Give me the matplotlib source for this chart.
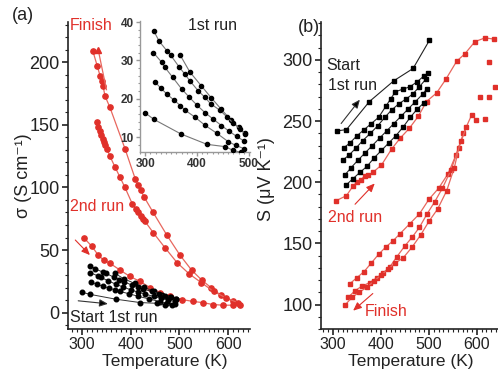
import matplotlib
matplotlib.use('Agg')
import matplotlib.pyplot as plt
from matplotlib.ticker import MultipleLocator

plt.rcParams['font.family'] = ['Liberation Sans', 'DejaVu Sans']

RED = '#e0302a'
REDL = '#e8675e'
DARK = '#222222'

# ---------------- panel (a): conductivity ----------------
# 2nd-run red curves
a_red1_T = [322, 331, 337, 340, 343, 347, 357, 388, 409, 415, 420, 428, 446, 474, 501, 525, 546, 565, 585, 610, 625]
a_red1_s = [209, 197, 189, 185, 181, 173, 164, 131, 107, 102, 98, 92, 80, 62, 46, 34, 26, 20, 14, 9, 6]
a_red2_T = [330, 333, 336, 339, 342, 345, 348, 351, 357, 368, 378, 388, 403, 410, 415, 420, 425, 429, 446, 470, 495, 520, 545, 570, 595, 620]
a_red2_s = [152, 148, 145, 142, 139, 136, 134, 131, 125, 116, 108, 100, 87, 83, 80, 77, 75, 73, 64, 52, 40, 31, 24, 17, 12, 8]
a_red3_T = [303, 320, 333, 344, 357, 378, 398, 419, 440, 460, 480, 505, 528, 549, 569, 590, 610]
a_red3_s = [60, 53, 46, 42, 39.5, 34, 29, 25, 20, 16, 13, 10.5, 9, 8, 6.5, 6, 6]
a_finish_T = [333, 350]
a_finish_s = [210, 178]

# 1st-run black curves (also shown in inset)
k0_T = [367, 386, 408, 427, 447, 465, 480, 492]
k0_s = [31.5, 27, 23.4, 20.3, 17.2, 14.5, 12.5, 11]
k1_T = [317, 327, 342, 349, 366, 376, 386, 402, 415, 426, 444, 458, 470, 482, 492]
k1_s = [37.6, 35, 32.5, 31.4, 28.2, 26.5, 24.7, 22.1, 20.4, 18.7, 17, 15.2, 13.6, 12.2, 10.8]
k2_T = [316, 332, 338, 353, 370, 385, 400, 415, 430, 447, 462, 476, 490]
k2_s = [32, 29.5, 28.2, 25.6, 22.6, 20.4, 18.3, 16.4, 14.8, 13, 11.5, 10.2, 9]
k3_T = [318, 330, 342, 355, 368, 377, 396, 415, 438, 460, 475, 490]
k3_s = [24.5, 22.8, 21.2, 19.7, 18.2, 17, 15.2, 13.1, 11, 8.8, 7.8, 7]
k4_T = [300, 317, 369, 419, 454, 470, 485]
k4_s = [16.3, 14.6, 10.8, 8.1, 7.5, 6.5, 6]
black_a = [(k0_T, k0_s), (k1_T, k1_s), (k2_T, k2_s), (k3_T, k3_s), (k4_T, k4_s)]

# ---------------- panel (b): Seebeck ----------------
b_k1_T = [309, 328, 376, 427, 467, 501]
b_k1_S = [242, 243, 266, 283, 293, 316]
b_k2_T = [322, 335, 350, 365, 380, 395, 410, 420, 430, 445, 460, 475, 490, 498]
b_k2_S = [228, 232, 238, 243, 248, 253, 262, 268, 274, 276, 278, 282, 287, 289]
b_k3_T = [320, 333, 348, 362, 378, 393, 408, 422, 437, 452, 466, 480, 493]
b_k3_S = [218, 222, 228, 234, 240, 246, 253, 259, 264, 268, 272, 278, 284]
b_k4_T = [325, 338, 352, 367, 382, 397, 412, 427, 442, 457, 472, 487, 495]
b_k4_S = [206, 212, 218, 224, 230, 236, 242, 248, 254, 260, 266, 272, 276]
b_k5_T = [328, 342, 356, 371, 386, 401, 416, 431, 446, 461, 476, 490]
b_k5_S = [198, 203, 208, 213, 220, 226, 232, 238, 245, 253, 260, 265]
black_b = [(b_k1_T, b_k1_S), (b_k2_T, b_k2_S), (b_k3_T, b_k3_S), (b_k4_T, b_k4_S), (b_k5_T, b_k5_S)]

b_heat_T = [307, 328, 342, 350, 358, 366, 374, 383, 401, 422, 440, 459, 478, 495, 516, 535, 558, 575, 596, 617, 636]
b_heat_S = [185, 189, 197, 200, 202, 205, 206, 208, 214, 227, 236, 244, 254, 266, 273, 284, 299, 305, 315, 318, 317]
b_top_T = [626, 637, 606, 626, 599, 616]
b_top_S = [298, 278, 270, 270, 251, 252]
b_c1_T = [589, 572, 556, 540, 520, 500, 480, 460, 440, 425, 410, 395, 380, 365, 350, 335]
b_c1_S = [255, 240, 222, 207, 195, 186, 174, 166, 158, 152, 147, 141, 134, 127, 122, 117]
b_c2_T = [578, 562, 546, 528, 512, 496, 480, 465, 450, 433, 419, 405, 392, 377, 360, 345, 332]
b_c2_S = [245, 228, 210, 195, 184, 174, 163, 155, 148, 139, 131, 126, 122, 118, 115, 111, 106]
b_c3_T = [566, 553, 537, 518, 500, 483, 465, 446, 430, 415, 400, 385, 370, 355, 340, 326]
b_c3_S = [234, 212, 193, 178, 168, 157, 147, 138, 134, 129, 124, 119, 114, 110, 106, 100]

W, H = 498, 370
fig = plt.figure(figsize=(W / 100, H / 100), dpi=100)


def box(x0, y0, x1, y1):
    return [x0 / W, 1 - y1 / H, (x1 - x0) / W, (y1 - y0) / H]


def style(ax, col=DARK, lw=1.2):
    for s in ['top', 'right']:
        ax.spines[s].set_visible(False)
    for s in ['left', 'bottom']:
        ax.spines[s].set_color(col)
        ax.spines[s].set_linewidth(lw)
    ax.tick_params(which='major', direction='out', length=4, width=lw, color=col)
    ax.tick_params(which='minor', direction='out', length=2, width=0.8, color=col)
    ax.set_facecolor('white')


axA = fig.add_axes(box(68, 22, 250, 329))
axB = fig.add_axes(box(321, 22, 498, 329))
axI = fig.add_axes(box(140, 21, 250, 152))

# ---- panel a ----
for T, s in [(a_red1_T, a_red1_s), (a_red2_T, a_red2_s), (a_red3_T, a_red3_s)]:
    axA.plot(T, s, '-', color=REDL, lw=0.9, marker='o', ms=3.8, mfc=RED, mec=RED, zorder=3)
axA.plot(a_finish_T, a_finish_s, '-', color=REDL, lw=0.9, zorder=3)
axA.plot(a_finish_T[:1], a_finish_s[:1], '^', color=RED, ms=5, zorder=4)
for T, s in black_a:
    axA.plot(T, s, '-', color='#333333', lw=0.7, marker='o', ms=3.3, mfc='black', mec='black', zorder=4)

axA.set_xlim(271, 645)
axA.set_ylim(-13, 232)
axA.xaxis.set_major_locator(MultipleLocator(100))
axA.xaxis.set_minor_locator(MultipleLocator(10))
axA.yaxis.set_major_locator(MultipleLocator(50))
axA.yaxis.set_minor_locator(MultipleLocator(10))
style(axA)
axA.tick_params(axis='x', labelsize=11.5, pad=2, colors=DARK)
axA.tick_params(axis='y', labelsize=13, pad=2, colors=DARK)
axA.set_xlabel('Temperature (K)', fontsize=12.5, color=DARK)
axA.xaxis.set_label_coords(0.53, -0.08)
axA.set_ylabel('σ (S cm⁻¹)', fontsize=13, color=DARK)
axA.yaxis.set_label_coords(-0.2, 0.5)

axA.annotate('', xy=(353, 7.1), xytext=(292, 9.5),
             arrowprops=dict(arrowstyle='-|>,head_length=0.5,head_width=0.22', color='#555555',
                             lw=0.8, shrinkA=0, shrinkB=0, fc='black', ec='#333333'))
axA.annotate('', xy=(316, 46), xytext=(286, 58),
             arrowprops=dict(arrowstyle='-|>,head_length=0.5,head_width=0.22', color=RED,
                             lw=0.8, shrinkA=0, shrinkB=0))

# ---- inset ----
for T, s in black_a:
    axI.plot(T, s, '-', color='#777777', lw=0.8, marker='o', ms=3.0, mfc='black', mec='black', zorder=3)
axI.set_xlim(290, 502)
axI.set_ylim(6.1, 40.3)
axI.xaxis.set_major_locator(MultipleLocator(100))
axI.xaxis.set_minor_locator(MultipleLocator(10))
axI.yaxis.set_major_locator(MultipleLocator(10))
axI.yaxis.set_minor_locator(MultipleLocator(2))
style(axI, col='#999999', lw=1.0)
axI.tick_params(which='major', length=3)
axI.tick_params(which='minor', length=1.5)
axI.tick_params(labelsize=8.5, pad=1.5, labelcolor='#333333')
for lab in axI.get_xticklabels() + axI.get_yticklabels():
    lab.set_fontweight('bold')

# ---- panel b ----
for T, S in black_b:
    axB.plot(T, S, '-', color='#222222', lw=0.8, marker='s', ms=3.0, mfc='black', mec='black', zorder=4)
axB.plot(b_heat_T, b_heat_S, '-', color=REDL, lw=0.9, marker='s', ms=3.0, mfc=RED, mec=RED, zorder=3)
axB.plot(b_top_T, b_top_S, 's', ms=3.2, color=RED, zorder=3)
for T, S in [(b_c1_T, b_c1_S), (b_c2_T, b_c2_S), (b_c3_T, b_c3_S)]:
    axB.plot(T, S, '-', color=REDL, lw=0.9, marker='s', ms=3.0, mfc=RED, mec=RED, zorder=3)

axB.set_xlim(275, 644)
axB.set_ylim(80, 331)
axB.xaxis.set_major_locator(MultipleLocator(100))
axB.xaxis.set_minor_locator(MultipleLocator(10))
axB.yaxis.set_major_locator(MultipleLocator(50))
axB.yaxis.set_minor_locator(MultipleLocator(10))
style(axB)
axB.tick_params(axis='x', labelsize=11.5, pad=2, colors=DARK)
axB.tick_params(axis='y', labelsize=13, pad=2, colors=DARK)
axB.set_xlabel('Temperature (K)', fontsize=12.5, color=DARK)
axB.xaxis.set_label_coords(0.508, -0.08)
axB.set_ylabel('S (μV K⁻¹)', fontsize=13, color=DARK)
axB.yaxis.set_label_coords(-0.26, 0.49)

axB.annotate('', xy=(356, 267.5), xytext=(317, 248),
             arrowprops=dict(arrowstyle='-|>,head_length=0.5,head_width=0.22', color='#555555',
                             lw=0.8, shrinkA=0, shrinkB=0, fc='black', ec='#333333'))
axB.annotate('', xy=(387, 199), xytext=(346, 182),
             arrowprops=dict(arrowstyle='-|>,head_length=0.5,head_width=0.22', color=RED,
                             lw=0.8, shrinkA=0, shrinkB=0))
axB.annotate('', xy=(342, 95), xytext=(383, 109),
             arrowprops=dict(arrowstyle='-|>,head_length=0.5,head_width=0.22', color=RED,
                             lw=0.8, shrinkA=0, shrinkB=0))

# ---- texts ----
def ftext(x, y, s, **kw):
    fig.text(x / W, 1 - y / H, s, **kw)

ftext(12, 16, '(a)', fontsize=13, color=DARK, ha='left', va='center')
ftext(70, 25, 'Finish', fontsize=11.5, color=RED, ha='left', va='center')
ftext(212, 26, '1st run', fontsize=11.5, color=DARK, ha='center', va='center')
ftext(70, 207, '2nd run', fontsize=11.5, color=RED, ha='left', va='center')
ftext(70, 318, 'Start 1st run', fontsize=11.5, color=DARK, ha='left', va='center')

ftext(298, 27, '(b)', fontsize=13, color=DARK, ha='left', va='center')
ftext(326, 65, 'Start', fontsize=11.5, color=DARK, ha='left', va='center')
ftext(328, 85, '1st run', fontsize=11.5, color=DARK, ha='left', va='center')
ftext(328, 218, '2nd run', fontsize=11.5, color=RED, ha='left', va='center')
ftext(365, 312, 'Finish', fontsize=11.5, color=RED, ha='left', va='center')

fig.savefig('out.png', dpi=100, facecolor='white')
